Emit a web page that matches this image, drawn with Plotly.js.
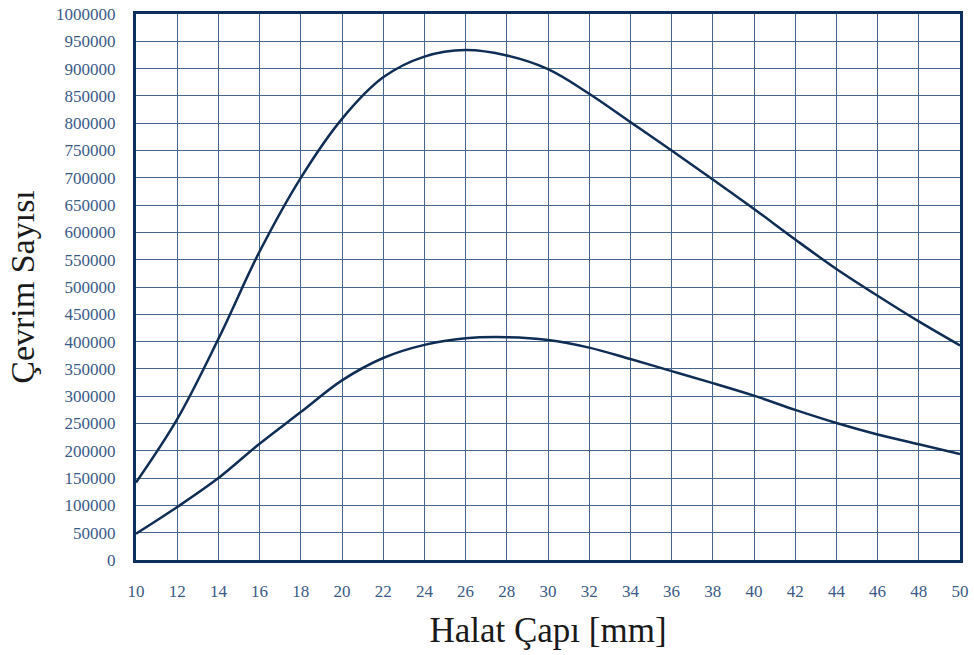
<!DOCTYPE html>
<html>
<head>
<meta charset="utf-8">
<script src="https://cdn.plot.ly/plotly-3.0.1.min.js"></script>
<style>html,body{margin:0;padding:0;background:#fff;}#chart{width:974px;height:655px;}</style>
</head>
<body>
<div id="chart"></div>
<script>
const diameters = [10, 12, 14, 16, 18, 20, 22, 24, 26, 28, 30, 32, 34, 36, 38, 40, 42, 44, 46, 48, 50];
const upperCycles = [142000, 258000, 405000, 565000, 700000, 808000, 884000, 922000, 934000, 924000, 899000, 854000, 802000, 750000, 697000, 643000, 587000, 533000, 484000, 437000, 393000];
const lowerCycles = [48000, 97000, 150000, 213000, 271000, 329000, 370000, 394000, 406000, 408000, 403000, 389000, 368000, 346000, 324000, 301000, 275000, 251000, 230000, 212000, 194000];
const xTicks = [10, 12, 14, 16, 18, 20, 22, 24, 26, 28, 30, 32, 34, 36, 38, 40, 42, 44, 46, 48, 50];

const lineColor = '#0f2d55';
const traces = [
  {x: diameters, y: upperCycles, type: 'scatter', mode: 'lines', line: {color: lineColor, width: 2.5, shape: 'spline', smoothing: 1}, hoverinfo: 'x+y'},
  {x: diameters, y: lowerCycles, type: 'scatter', mode: 'lines', line: {color: lineColor, width: 2.5, shape: 'spline', smoothing: 1}, hoverinfo: 'x+y'}
];

const serif = '"Liberation Serif", "Times New Roman", serif';
const layout = {
  width: 974, height: 655,
  margin: {l: 136, r: 14, t: 14, b: 95},
  paper_bgcolor: '#ffffff', plot_bgcolor: '#ffffff',
  showlegend: false,
  font: {family: serif, color: '#3a5a88'},
  xaxis: {
    range: [10, 50], tickvals: xTicks, ticktext: xTicks.map(String),
    showgrid: true, gridcolor: '#46658c', gridwidth: 1,
    showline: true, linecolor: '#0d2f5c', linewidth: 3, mirror: true,
    zeroline: false, ticks: 'outside', ticklen: 14, tickcolor: 'rgba(0,0,0,0)',
    tickfont: {size: 17, color: '#3a5a88', family: serif},
    title: {text: 'Halat Çapı [mm]', font: {size: 35, color: '#1a1a1a', family: serif}, standoff: 18}
  },
  yaxis: {
    range: [0, 1000000], dtick: 50000, tick0: 0, tickformat: 'd',
    showgrid: true, gridcolor: '#46658c', gridwidth: 1,
    showline: true, linecolor: '#0d2f5c', linewidth: 3, mirror: true,
    zeroline: false, ticks: 'outside', ticklen: 14, tickcolor: 'rgba(0,0,0,0)',
    tickfont: {size: 17, color: '#3a5a88', family: serif},
    title: {text: 'Çevrim Sayısı', font: {size: 34, color: '#1a1a1a', family: serif}, standoff: 12}
  }
};

Plotly.newPlot('chart', traces, layout, {displayModeBar: false, staticPlot: true});
</script>
</body>
</html>
